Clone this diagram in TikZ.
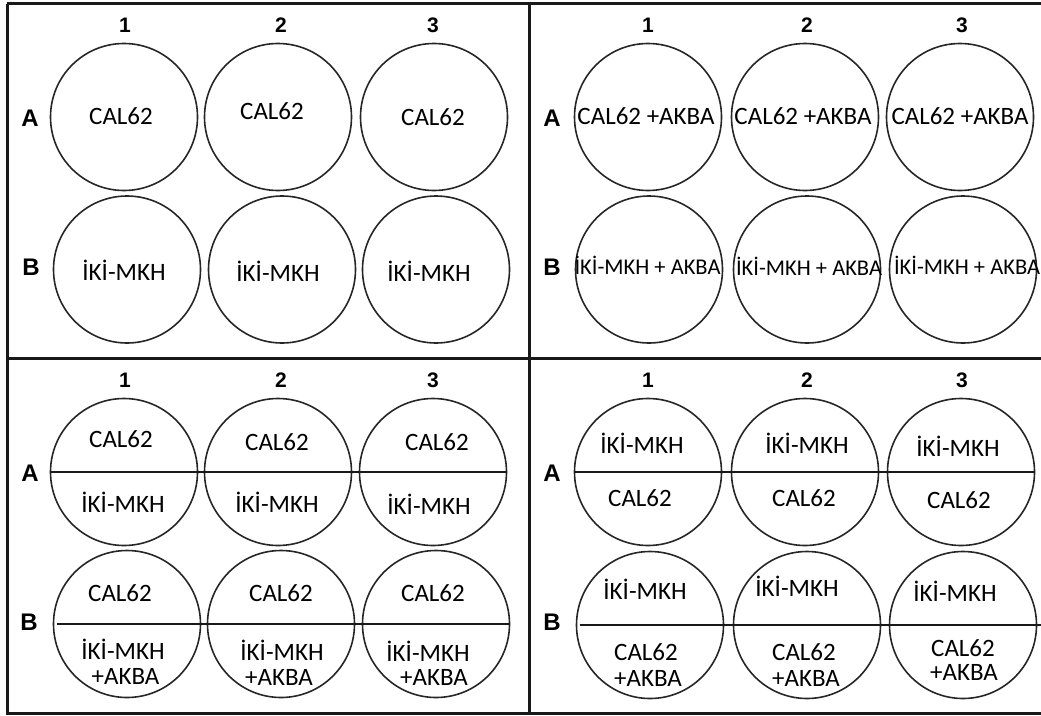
\documentclass[tikz,border=0pt]{standalone}
\usepackage{fontspec}
\newfontfamily\wellfont{Carlito}
\newfontfamily\labfont{Liberation Sans}
\tikzset{
  frame/.style={line width=3pt, draw=black!90},
  well/.style={circle, draw=black!85, line width=1.6pt, minimum size=147pt, inner sep=0pt},
  split/.style={line width=2pt, draw=black!90},
  txt/.style={font=\wellfont\fontsize{25}{30}\selectfont, inner sep=0pt, text height=16pt, text depth=0pt},
  smalltxt/.style={font=\wellfont\fontsize{22.5}{27}\selectfont, inner sep=0pt, text height=14.5pt, text depth=0pt},
  collab/.style={font=\labfont\bfseries\fontsize{21}{25}\selectfont, inner sep=0pt, text height=15pt, text depth=0pt},
  rowlab/.style={font=\labfont\bfseries\fontsize{24}{28}\selectfont, inner sep=0pt, text height=17.2pt, text depth=0pt}
}
\begin{document}
\begin{tikzpicture}[x=1pt, y=-1pt]
  \useasboundingbox (0,0) rectangle (1041,715);
  % cerceve
  \draw[frame] (7,3.5) -- (1045,3.5) (7,3.5) -- (7,713) -- (1045,713);
  \draw[frame] (529,3.5) -- (529,713) (7,358) -- (1045,358);
  % sutun ve satir etiketleri
  \foreach \x [count=\i] in {125,281,433} {
    \node[collab] (tlc\i) at (\x,25) {\i};
    \node[collab] (blc\i) at (\x,380) {\i};
  }
  \foreach \x [count=\i] in {648,807,962} {
    \node[collab] (trc\i) at (\x,25) {\i};
    \node[collab] (brc\i) at (\x,380) {\i};
  }
  \node[rowlab] (tlA) at (30,118) {A};
  \node[rowlab] (tlB) at (31,267) {B};
  \node[rowlab] (trA) at (552,118) {A};
  \node[rowlab] (trB) at (552,267) {B};
  \node[rowlab] (blA) at (30,473) {A};
  \node[rowlab] (blB) at (29,622) {B};
  \node[rowlab] (brA) at (552,473) {A};
  \node[rowlab] (brB) at (552,622) {B};
  % kuyucuklar
  \foreach \n/\x/\y in {tlA1/124/117, tlA2/278/117, tlA3/434/117,
      tlB1/127/269.5, tlB2/282/269.5, tlB3/436/269.5,
      trA1/648/117, trA2/805/117, trA3/960/117,
      trB1/649/269.5, trB2/807/269.5, trB3/963/269.5,
      blA1/124/472, blA2/278/472, blA3/433/472,
      blB1/127/624, blB2/281/624, blB3/436/624,
      brA1/648/472, brA2/805/472, brA3/961/472,
      brB1/650/625, brB2/807/625, brB3/963/625}
    \node[well] (\n) at (\x,\y) {};
  % ayirma cizgileri
  \draw[split] (blA1.west) -- (blA3.east);
  \draw[split] ([xshift=4pt]blB1.west) -- (blB3.east);
  \draw[split] (brA1.west) -- (brA3.east);
  \draw[split] ([xshift=4pt]brB1.west) -- ([xshift=4pt]brB3.east);
  % yazilar
  \foreach \n/\x/\y/\t in {tlA1t/121/116/CAL62, tlA2t/272/111/CAL62, tlA3t/433/117/CAL62,
      tlB1t/124/272/İKİ-MKH, tlB2t/278/273/İKİ-MKH, tlB3t/429/273/İKİ-MKH,
      trA1t/646/116/CAL62 +AKBA, trA2t/803/116/CAL62 +AKBA, trA3t/960/116/CAL62 +AKBA,
      blA1a/121/439/CAL62, blA2a/277/442/CAL62, blA3a/437/442/CAL62,
      blA1b/123/504/İKİ-MKH, blA2b/277/504/İKİ-MKH, blA3b/429/506/İKİ-MKH,
      blB1a/120/593/CAL62, blB2a/281/593/CAL62, blB3a/433/593/CAL62,
      blB1b/123/651/İKİ-MKH, blB2b/282/652/İKİ-MKH, blB3b/428/653/İKİ-MKH,
      blB1c/125.5/676/+AKBA, blB2c/279/677/+AKBA, blB3c/434/677/+AKBA,
      brA1a/642/445/İKİ-MKH, brA2a/807/445/İKİ-MKH, brA3a/958/448/İKİ-MKH,
      brA1b/640/498/CAL62, brA2b/804/498/CAL62, brA3b/959/500/CAL62,
      brB1a/645/591/İKİ-MKH, brB2a/797/588/İKİ-MKH, brB3a/955/593/İKİ-MKH,
      brB1b/646/652/CAL62, brB2b/804/652/CAL62, brB3b/963/648/CAL62,
      brB1c/648/678/+AKBA, brB2c/806/678/+AKBA, brB3c/964/672/+AKBA}
    \node[txt] (\n) at (\x,\y) {\t};
  \foreach \n/\x/\y in {trB1t/647.5/267, trB2t/809/268, trB3t/967/267}
    \node[smalltxt] (\n) at (\x,\y) {İKİ-MKH + AKBA};
\end{tikzpicture}
\end{document}
